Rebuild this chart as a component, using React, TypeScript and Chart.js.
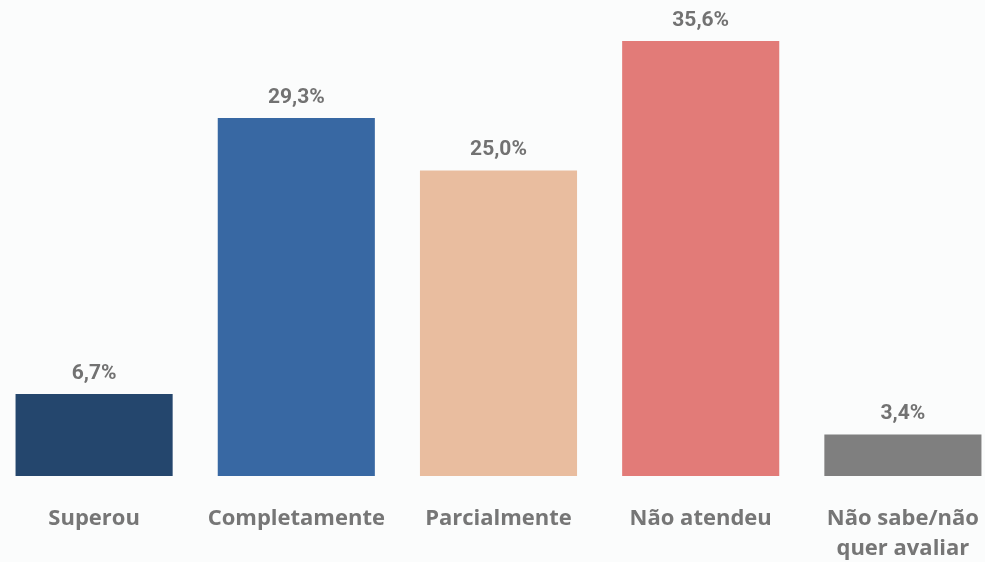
import React, { useEffect, useRef } from "react";
import { Chart, registerables } from "chart.js";

Chart.register(...registerables);

const categories: (string | string[])[] = [
  "Superou",
  "Completamente",
  "Parcialmente",
  "Não atendeu",
  ["Não sabe/não", "quer avaliar"],
];
const values = [6.7, 29.3, 25.0, 35.6, 3.4];
const valueLabels = ["6,7%", "29,3%", "25,0%", "35,6%", "3,4%"];
const colors = ["#24466d", "#3868a3", "#e9bd9f", "#e27b78", "#7f7f7f"];

const labelPlugin = {
  id: "valueLabels",
  afterDatasetsDraw(chart: any) {
    const ctx = chart.ctx;
    const meta = chart.getDatasetMeta(0);
    ctx.save();
    ctx.font = "bold 21px Roboto";
    ctx.fillStyle = "#727272";
    ctx.textAlign = "center";
    ctx.textBaseline = "bottom";
    meta.data.forEach((bar: any, i: number) => {
      ctx.fillText(valueLabels[i], bar.x, bar.y - 10);
    });
    ctx.restore();
  },
};

export default function App() {
  const ref = useRef<HTMLCanvasElement>(null);
  useEffect(() => {
    if (!ref.current) return;
    const chart = new Chart(ref.current, {
      type: "bar",
      data: {
        labels: categories,
        datasets: [
          {
            data: values,
            backgroundColor: colors,
            categoryPercentage: 1,
            barPercentage: 0.777,
          },
        ],
      },
      options: {
        animation: false,
        responsive: false,
        maintainAspectRatio: false,
        layout: { padding: 0 },
        plugins: { legend: { display: false }, tooltip: { enabled: false } },
        scales: {
          y: { display: false, min: 0, max: 38.95 },
          x: {
            grid: { display: false },
            border: { display: false },
            ticks: {
              color: "#767676",
              font: { family: "'Open Sans'", size: 22, weight: "bold", lineHeight: 1.4 },
              padding: 19,
              maxRotation: 0,
              autoSkip: false,
            },
            afterFit(scale: any) {
              scale.height = 86;
            },
          },
        },
      },
      plugins: [labelPlugin],
    });
    return () => chart.destroy();
  }, []);
  return (
    <div
      style={{
        position: "absolute",
        left: 0,
        top: 0,
        width: 985,
        height: 562,
        overflow: "hidden",
        background: "#fbfcfc",
      }}
    >
      <canvas
        ref={ref}
        width={1011}
        height={562}
        style={{ position: "absolute", left: -7.5, top: 0, width: 1011, height: 562 }}
      />
    </div>
  );
}
